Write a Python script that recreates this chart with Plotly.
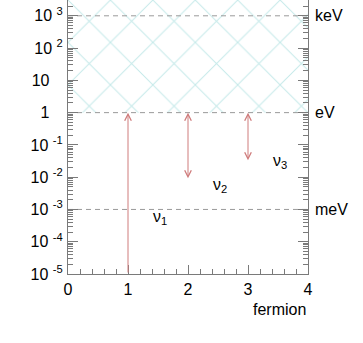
import plotly.graph_objects as go
import math

# ---- data ----
fermions = [1, 2, 3]                      # x position of each neutrino
mass_upper = [1.0, 1.0, 1.0]              # eV (upper end of each arrow)
mass_lower = [1e-5, 0.0083, 0.030]        # eV (lower end of each arrow)
nu_labels = ["ν<sub>1</sub>", "ν<sub>2</sub>", "ν<sub>3</sub>"]
nu_label_x = [1.53, 2.53, 3.53]
nu_label_y = [10**-3.25, 10**-2.25, 10**-1.5]
double_headed = [False, True, True]

scale_values = [1e3, 1.0, 1e-3]
scale_names = ["keV", "eV", "meV"]

excluded_x = [0, 4, 4, 0, 0]
excluded_y = [1.0, 1.0, 1e5, 1e5, 1.0]

y_tickvals = [1e-5, 1e-4, 1e-3, 1e-2, 1e-1, 1, 10, 100, 1000]
y_ticktext = ["10 <sup>-5</sup>", "10 <sup>-4</sup>", "10 <sup>-3</sup>", "10 <sup>-2</sup>",
              "10 <sup>-1</sup>", "1&nbsp;&nbsp;&nbsp;", "10&nbsp;&nbsp;&nbsp;",
              "10 <sup>2</sup>", "10 <sup>3</sup>"]
x_tickvals = [0, 1, 2, 3, 4]
x_ticktext = ["0", "1", "2", "3", "4"]

FONT = "Liberation Sans, Arial, sans-serif"
ARROW = "#cf7c7c"
HATCH = "#8ad3d3"
AXC = "#7a7a7a"

fig = go.Figure()

fig.add_trace(go.Scatter(
    x=excluded_x, y=excluded_y, mode="lines", fill="toself",
    line=dict(width=0, color=HATCH),
    fillcolor="rgba(0,0,0,0)",
    fillpattern=dict(shape="x", fgcolor=HATCH, bgcolor="white", size=30, solidity=0.065),
    hoverinfo="skip", showlegend=False))

for v in scale_values:
    fig.add_trace(go.Scatter(
        x=[0, 4], y=[v, v], mode="lines",
        line=dict(color="#9a9a9a", width=1, dash="5px,4px"),
        hoverinfo="skip", showlegend=False))

for xv, hi, lo, dbl in zip(fermions, mass_upper, mass_lower, double_headed):
    fig.add_annotation(
        x=xv, y=math.log10(hi), ax=xv, ay=math.log10(lo),
        xref="x", yref="y", axref="x", ayref="y",
        showarrow=True, text="", arrowhead=5, startarrowhead=5,
        arrowside="end+start" if dbl else "end",
        arrowsize=1.3, startarrowsize=1.3, arrowwidth=1, arrowcolor=ARROW,
        standoff=0, startstandoff=0)

for t, xv, yv in zip(nu_labels, nu_label_x, nu_label_y):
    fig.add_annotation(x=xv, y=math.log10(yv), xref="x", yref="y", text=t,
                       showarrow=False, font=dict(family=FONT, size=16, color="black"))

for v, name in zip(scale_values, scale_names):
    fig.add_annotation(x=1, y=math.log10(v), xref="paper", yref="y", text=name,
                       xanchor="left", xshift=5, showarrow=False,
                       font=dict(family=FONT, size=16, color="black"))

fig.add_annotation(x=1, y=0, xref="paper", yref="paper", text="fermion",
                   xanchor="right", yanchor="top", yshift=-25, showarrow=False,
                   font=dict(family=FONT, size=16, color="black"))

fig.update_xaxes(
    range=[0, 4], tickmode="array", tickvals=x_tickvals, ticktext=x_ticktext,
    ticks="inside", ticklen=9, tickcolor=AXC, showline=True, linecolor=AXC,
    linewidth=1, showgrid=False, zeroline=False, mirror=False,
    minor=dict(ticks="inside", ticklen=5, tickcolor=AXC, dtick=0.2, showgrid=False),
    tickfont=dict(family=FONT, size=16, color="black"), ticklabelstandoff=1)

fig.update_yaxes(
    type="log", range=[-5, 3.49], tickmode="array", tickvals=y_tickvals, ticktext=y_ticktext,
    ticks="inside", ticklen=10, tickcolor=AXC, showline=True, linecolor=AXC,
    linewidth=1, showgrid=False, zeroline=False, mirror="ticks",
    minor=dict(ticks="inside", ticklen=5, tickcolor=AXC, dtick="D1", showgrid=False),
    tickfont=dict(family=FONT, size=16, color="black"), ticklabelstandoff=1)

fig.update_layout(
    width=363, height=343, margin=dict(l=68, r=55, t=0, b=69),
    paper_bgcolor="white", plot_bgcolor="white", showlegend=False)

fig.write_html("out.html")
